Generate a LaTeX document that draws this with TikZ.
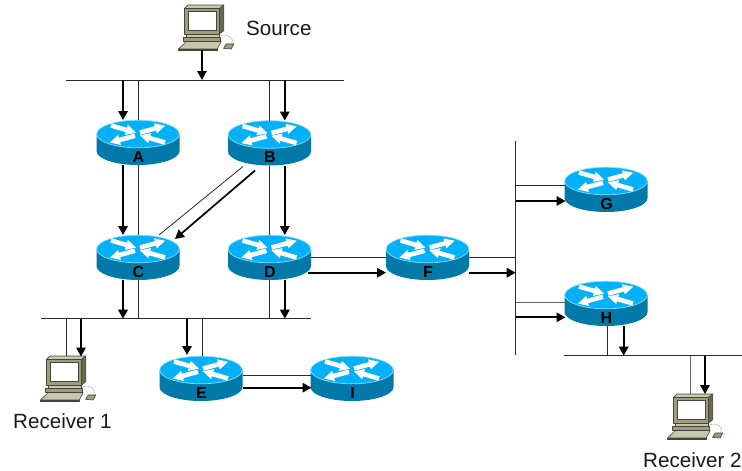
\documentclass[tikz,border=0pt]{standalone}
\usepackage{fontspec}
\setmainfont{Liberation Sans}
\usetikzlibrary{arrows.meta}
\definecolor{rtop}{HTML}{02B1F7}
\definecolor{rbody}{HTML}{0379A9}
\definecolor{rrim}{HTML}{8FDDFC}
\definecolor{pcface}{HTML}{9C9C7E}
\definecolor{pctop}{HTML}{C8C8AE}
\definecolor{pcside}{HTML}{6A6A50}
\definecolor{pcline}{HTML}{45453A}
\definecolor{wire}{HTML}{2A2A2A}
\tikzset{
  x=1pt,y=-1pt,
  routerbox/.style={minimum width=83pt,minimum height=45pt,inner sep=0pt,outer sep=0pt},
  pcbox/.style={minimum width=56pt,minimum height=45pt,inner sep=0pt,outer sep=0pt,anchor=north west},
  routerlabel/.style={font=\fontsize{16}{16}\selectfont\bfseries,inner sep=0pt,text=black},
  caption/.style={font=\fontsize{20.6}{20.6}\selectfont,inner sep=0pt,anchor=base west,text=black!90},
  segment/.style={line width=1pt,draw=wire},
  thinlink/.style={line width=.9pt,draw=wire},
  flow/.style={line width=1.7pt,draw=black,-{Triangle[length=9pt,width=9.5pt]},shorten >=0pt},
  pcshape/.style={draw=pcline,line width=.6pt,line join=round},
}
\newcommand{\whitearrow}[4]{% x y angle length
  \fill[white,shift={(#1,#2)},rotate=#3] (0,-2.3) -- (#4-10,-2.3) -- (#4-10,-5.2) -- (#4,0) -- (#4-10,5.2) -- (#4-10,2.3) -- (0,2.3) -- cycle;}
\newcommand{\routerat}[4]{% name cx top label
  \begin{scope}[shift={(#2,#3)}]
    \fill[rbody] (-41.5,14) -- (-41.5,31) arc[start angle=180,end angle=360,x radius=41.5pt,y radius=14pt] -- (41.5,14) -- cycle;
    \fill[rtop,draw=rrim,line width=.7pt] (0,14) ellipse[x radius=41.3pt,y radius=13.8pt];
    \whitearrow{2}{12.5}{15}{26}
    \whitearrow{-3}{15.8}{195}{26}
    \whitearrow{-27}{5.5}{-16}{26}
    \whitearrow{27}{22.5}{164}{26}
  \end{scope}
  \node[routerbox] (#1) at (#2,#3+22.5) {};
  \node[routerlabel] (#1label) at (#2+0.5,#3+36.7) {#4};}
\newcommand{\computerat}[3]{% name x y
  \begin{scope}[shift={(#2,#3)},x=.3333pt,y=-.3333pt]
    \draw[pcshape,fill=pctop] (0,132) -- (23,110) -- (128,110) -- (116,132) -- cycle;
    \draw[pcshape,fill=pcface] (0,132) -- (116,132) -- (116,136) -- (0,136) -- cycle;
    \draw[pcshape,fill=pcface] (13,96) rectangle (126,108);
    \draw[pcshape,fill=pctop] (23,87) rectangle (123,96);
    \draw[pcshape,fill=pcside] (123,10) -- (136,0) -- (136,77) -- (123,87) -- cycle;
    \draw[pcshape,fill=pctop] (18,10) -- (28,0) -- (136,0) -- (123,10) -- cycle;
    \draw[pcshape,fill=pcface] (18,10) rectangle (123,87);
    \draw[pcline,fill=white,line width=.9pt] (30,20) rectangle (113,77);
    \draw[black!25,line width=.7pt] (128,92) .. controls (150,85) and (168,100) .. (160,116);
    \draw[pcshape,fill=pcface] (135,130) -- (143,117) -- (166,117) -- (158,132) -- cycle;
  \end{scope}
  \node[pcbox] (#1) at (#2,#3) {};}
\begin{document}
\begin{tikzpicture}
\useasboundingbox[fill=white] (0,0) rectangle (742,471);
% computers
\computerat{src}{178.5}{5}
\computerat{rxa}{40.5}{356}
\computerat{rxb}{667.5}{394}
% routers
\routerat{A}{138}{120}{A}
\routerat{B}{269.5}{120.5}{B}
\routerat{C}{138}{235}{C}
\routerat{D}{269.5}{235}{D}
\routerat{E}{201}{356}{E}
\routerat{F}{427.5}{235}{F}
\routerat{G}{606}{167}{G}
\routerat{H}{606}{281}{H}
\routerat{I}{352}{356}{I}
% bus ends
\coordinate (busaL) at (66,80);
\coordinate (busaR) at (343.5,80);
\coordinate (busbL) at (41,318.7);
\coordinate (busbR) at (311,318.7);
\coordinate (buscT) at (515.7,141);
\coordinate (buscB) at (515.7,354.5);
\coordinate (busdL) at (564,355.7);
\coordinate (busdR) at (742,355.7);
\draw[segment] (busaL) -- (busaR);
\draw[segment] (busbL) -- (busbR);
\draw[segment] (buscT) -- (buscB);
\draw[segment] (busdL) -- (busdR);
% source
\draw[flow] ([xshift=-4.5pt]src.south) -- ([xshift=-4.5pt]src.south |- busaL);
% bus a to A, B
\draw[flow] ([xshift=-15pt]A.north |- busaL) -- ([xshift=-15pt]A.north);
\draw[thinlink] ([xshift=.5pt]A.north |- busaL) -- ([xshift=.5pt]A.north);
\draw[thinlink] (B.north |- busaL) -- (B.north);
\draw[flow] ([xshift=15.3pt]B.north |- busaL) -- ([xshift=15.3pt]B.north);
% A to C
\draw[flow] ([xshift=-15pt]A.south) -- ([xshift=-15pt]C.north);
\draw[thinlink] ([xshift=.7pt]A.south) -- ([xshift=.7pt]C.north);
% B to D
\draw[thinlink] (B.south) -- (D.north);
\draw[flow] ([xshift=15.3pt]B.south) -- ([xshift=15.3pt]D.north);
% B to C
\draw[line width=.8pt,draw=wire] ([shift={(-26.5,1)}]B.south) -- ([shift={(21,0)}]C.north);
\draw[flow] ([shift={(-14.5,5)}]B.south) -- ([shift={(37,4)}]C.north);
% C, D to bus b
\draw[flow] ([xshift=-15pt]C.south) -- ([xshift=-15pt]C.south |- busbL);
\draw[thinlink] ([xshift=.7pt]C.south) -- ([xshift=.7pt]C.south |- busbL);
\draw[thinlink] (D.south) -- (D.south |- busbL);
\draw[flow] ([xshift=15.3pt]D.south) -- ([xshift=15.3pt]D.south |- busbL);
% bus b to receiver 1
\draw[thinlink] ([xshift=-2.5pt]rxa.north |- busbL) -- ([xshift=-2.5pt]rxa.north);
\draw[flow] ([xshift=12.5pt]rxa.north |- busbL) -- ([xshift=12.5pt,yshift=-.5pt]rxa.north);
% bus b to E
\draw[flow] ([xshift=-14pt]E.north |- busbL) -- ([xshift=-14pt,yshift=1pt]E.north);
\draw[thinlink] ([xshift=1.7pt]E.north |- busbL) -- ([xshift=1.7pt]E.north);
% E to I
\draw[thinlink] ([yshift=3.2pt]E.east) -- ([yshift=3.2pt]I.west);
\draw[flow] ([yshift=-9.2pt]E.east) -- ([xshift=1pt,yshift=-9.2pt]I.west);
% D to F
\draw[thinlink] (D.east) -- (F.west);
\draw[flow] ([xshift=-3pt,yshift=-15.2pt]D.east) -- ([yshift=-15.2pt]F.west);
% F to bus c
\draw[thinlink] (F.east) -- (F.east -| buscT);
\draw[flow] ([yshift=-15.2pt]F.east) -- ([yshift=-15.2pt]F.east -| buscT);
% bus c to G, H
\draw[thinlink] ([yshift=4.5pt]G.west -| buscT) -- ([yshift=4.5pt]G.west);
\draw[flow] ([yshift=-11.5pt]G.west -| buscT) -- ([xshift=1pt,yshift=-11.5pt]G.west);
\draw[thinlink,draw=black!60] ([yshift=1.5pt]H.west -| buscT) -- ([yshift=1.5pt]H.west);
\draw[flow] ([yshift=-13.8pt]H.west -| buscT) -- ([xshift=1pt,yshift=-13.8pt]H.west);
% H to bus d
\draw[thinlink] ([xshift=1.3pt]H.south) -- ([xshift=1.3pt]H.south |- busdL);
\draw[flow] ([xshift=17.7pt]H.south) -- ([xshift=17.7pt]H.south |- busdL);
% bus d to receiver 2
\draw[thinlink,draw=black!60] ([xshift=-5pt]rxb.north |- busdL) -- ([xshift=-5pt]rxb.north);
\draw[flow] ([xshift=9.5pt]rxb.north |- busdL) -- ([xshift=9.5pt]rxb.north);
% texts
\node[caption] (srctext) at (246,35) {Source};
\node[caption] (rxatext) at (13,428) {Receiver 1};
\node[caption] (rxbtext) at (643,467) {Receiver 2};
\end{tikzpicture}
\end{document}
